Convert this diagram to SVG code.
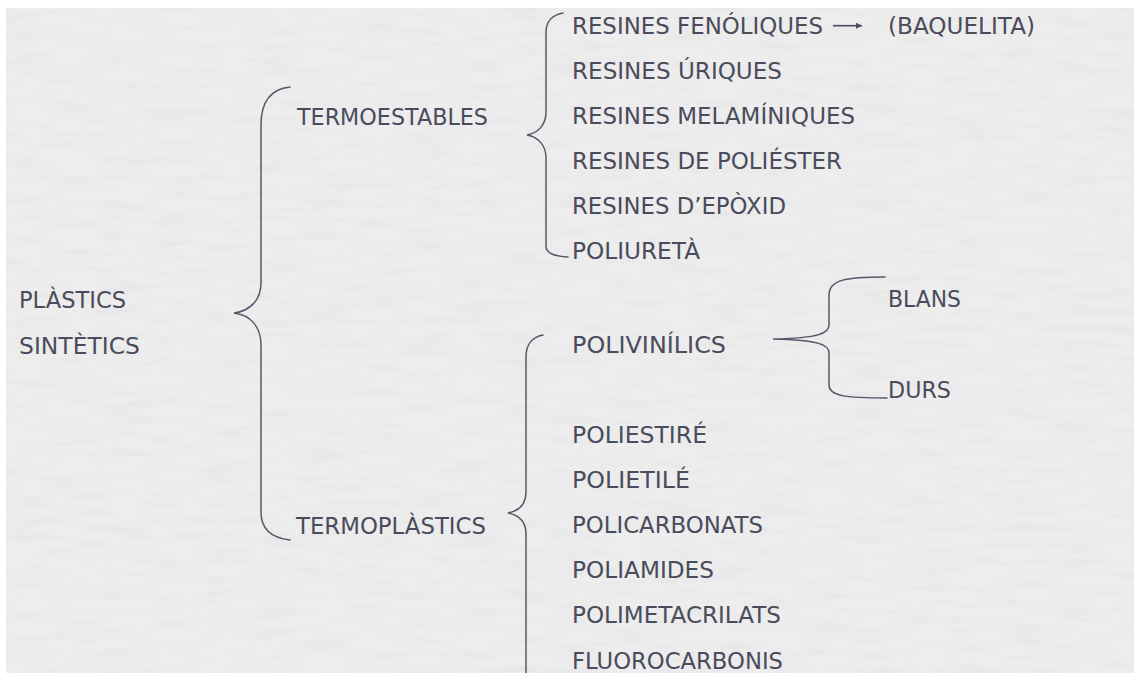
<svg xmlns="http://www.w3.org/2000/svg" width="1134" height="673" viewBox="0 0 1134 673">
  <defs>
    <style>
      text { font-family: "DejaVu Sans", "Liberation Sans", sans-serif; font-size: 23px; fill: #4a4c5c; }
      .br { fill: none; stroke: #55586a; stroke-width: 1.5; stroke-linecap: round; }
      .ar { stroke: #4a4c5c; stroke-width: 1.6; }
    </style>
    <filter id="paper" x="0" y="0" width="100%" height="100%">
      <feTurbulence type="fractalNoise" baseFrequency="0.02 0.12" numOctaves="4" seed="7"/>
      <feColorMatrix type="matrix" values="0 0 0 0 0.6  0 0 0 0 0.6  0 0 0 0 0.6  1.4 0 0 0 -0.62"/>
    </filter>
    <marker id="ah" viewBox="0 0 10 10" refX="10" refY="5" markerWidth="10" markerHeight="6" markerUnits="userSpaceOnUse" orient="auto">
      <path d="M0,0 L10,5 L0,10 Z" fill="#4a4c5c"/>
    </marker>
  </defs>
  <rect x="0" y="0" width="1134" height="673" fill="#ffffff"/>
  <rect x="6" y="8" width="1128" height="665" fill="#ededed"/>
  <rect x="6" y="8" width="1128" height="665" filter="url(#paper)" opacity="0.28"/>

  <g id="connectors">
    <path class="br" d="M290,87 C271,89 261,102 261,125 L261,283 C261,300 250,311 234,313 C250,315 261,326 261,345 L261,512 C261,530 272,538 290,540"/>
    <path class="br" d="M563,13 C552,15 546,22 546,32 L546,112 C546,125 538,133 527,135 C538,137 546,145 546,158 L546,246 C546,253 553,256 568,257"/>
    <path class="br" d="M543,335 C532,337 526,345 526,357 L526,492 C526,505 518,511 508,513 C518,515 526,521 526,534 L526,680"/>
    <path class="br" d="M885,277 C845,277 829,280 829,295 L829,325 C829,333 820,338 773,339 C820,340 829,345 829,353 L829,385 C829,396 845,398 887,398"/>
    <line class="ar" x1="833" y1="25.7" x2="862" y2="25.7" marker-end="url(#ah)"/>
  </g>

  <g id="plastics-sintetics">
    <text x="19" y="308" textLength="107" lengthAdjust="spacingAndGlyphs">PLÀSTICS</text>
    <text x="19" y="354" textLength="121" lengthAdjust="spacingAndGlyphs">SINTÈTICS</text>
  </g>
  <g id="termoestables"><text x="297" y="124.5" textLength="191" lengthAdjust="spacingAndGlyphs">TERMOESTABLES</text></g>
  <g id="termoplastics"><text x="296" y="534" textLength="190" lengthAdjust="spacingAndGlyphs">TERMOPLÀSTICS</text></g>

  <g id="resines-fenoliques"><text x="572" y="34.3" textLength="251" lengthAdjust="spacingAndGlyphs">RESINES FENÓLIQUES</text></g>
  <g id="baquelita"><text x="888" y="34.3" textLength="147" lengthAdjust="spacingAndGlyphs">(BAQUELITA)</text></g>
  <g id="resines-uriques"><text x="572" y="79.3" textLength="210" lengthAdjust="spacingAndGlyphs">RESINES ÚRIQUES</text></g>
  <g id="resines-melaminiques"><text x="572" y="124.3" textLength="283" lengthAdjust="spacingAndGlyphs">RESINES MELAMÍNIQUES</text></g>
  <g id="resines-poliester"><text x="572" y="169.3" textLength="270" lengthAdjust="spacingAndGlyphs">RESINES DE POLIÉSTER</text></g>
  <g id="resines-epoxid"><text x="572" y="214.3" textLength="214" lengthAdjust="spacingAndGlyphs">RESINES D’EPÒXID</text></g>
  <g id="poliureta"><text x="572" y="259.3" textLength="128" lengthAdjust="spacingAndGlyphs">POLIURETÀ</text></g>

  <g id="polivinilics"><text x="572" y="352.7" textLength="154" lengthAdjust="spacingAndGlyphs">POLIVINÍLICS</text></g>
  <g id="blans"><text x="888" y="306.7" textLength="73" lengthAdjust="spacingAndGlyphs">BLANS</text></g>
  <g id="durs"><text x="888" y="398" textLength="63" lengthAdjust="spacingAndGlyphs">DURS</text></g>

  <g id="poliestire"><text x="572" y="443.3" textLength="135" lengthAdjust="spacingAndGlyphs">POLIESTIRÉ</text></g>
  <g id="polietile"><text x="572" y="488.3" textLength="118" lengthAdjust="spacingAndGlyphs">POLIETILÉ</text></g>
  <g id="policarbonats"><text x="572" y="533.3" textLength="191" lengthAdjust="spacingAndGlyphs">POLICARBONATS</text></g>
  <g id="poliamides"><text x="572" y="578.3" textLength="142" lengthAdjust="spacingAndGlyphs">POLIAMIDES</text></g>
  <g id="polimetacrilats"><text x="572" y="623.3" textLength="209" lengthAdjust="spacingAndGlyphs">POLIMETACRILATS</text></g>
  <g id="fluorocarbonis"><text x="572" y="669" textLength="211" lengthAdjust="spacingAndGlyphs">FLUOROCARBONIS</text></g>
</svg>
